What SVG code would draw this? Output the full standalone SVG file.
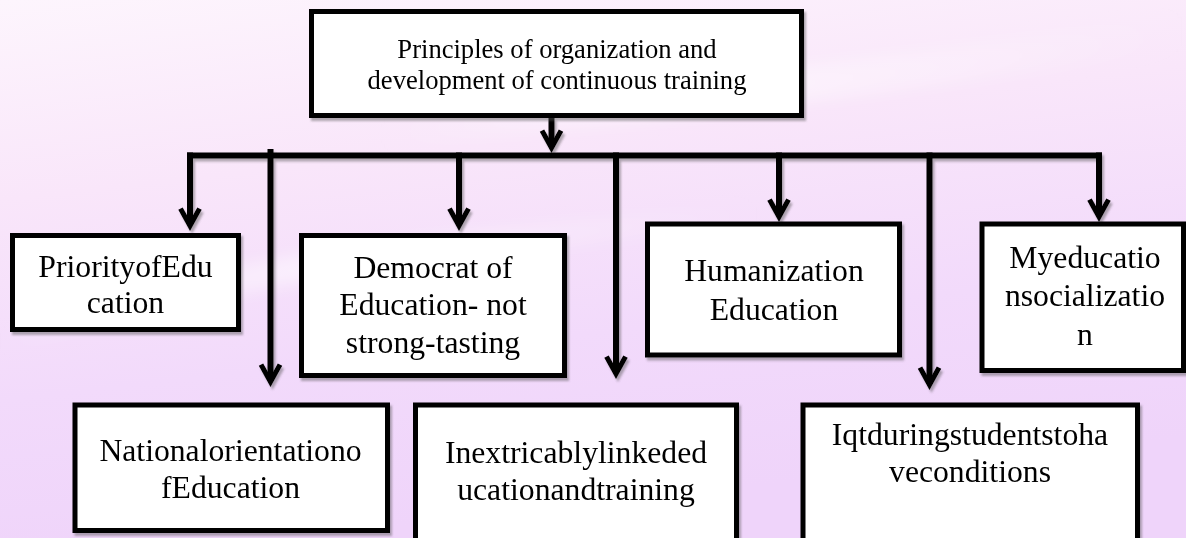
<svg xmlns="http://www.w3.org/2000/svg" width="1186" height="538" viewBox="0 0 1186 538">
<defs>
<linearGradient id="bg" x1="0" y1="0" x2="0.25" y2="1">
<stop offset="0" stop-color="#fdf5fd"/>
<stop offset="0.35" stop-color="#f9e6fa"/>
<stop offset="0.7" stop-color="#f2dafb"/>
<stop offset="1" stop-color="#efd4fa"/>
</linearGradient>
<linearGradient id="sw" x1="0" y1="0" x2="1" y2="0">
<stop offset="0" stop-color="#ffffff" stop-opacity="0"/>
<stop offset="0.4" stop-color="#ffffff" stop-opacity="0.55"/>
<stop offset="1" stop-color="#ffffff" stop-opacity="0"/>
</linearGradient>
<filter id="blur" x="-10%" y="-50%" width="120%" height="200%"><feGaussianBlur stdDeviation="8"/></filter>
<filter id="sh" filterUnits="userSpaceOnUse" x="0" y="0" width="1186" height="538">
<feDropShadow dx="2" dy="3" stdDeviation="1" flood-color="#555" flood-opacity="0.45"/>
</filter>
<marker id="chev" markerUnits="userSpaceOnUse" orient="auto" overflow="visible" markerWidth="30" markerHeight="30" refX="0" refY="0">
<path d="M-16.4,-9.5 L0.8,0 L-16.4,9.5" fill="none" stroke="#000" stroke-width="5" stroke-linejoin="miter" stroke-miterlimit="10"/>
</marker>
<style>
.box{fill:#fff;stroke:#000;stroke-width:5}
.t{font-family:"Liberation Serif","Times New Roman",serif;font-size:31.7px;fill:#000;text-anchor:middle}
.tt{font-family:"Liberation Serif","Times New Roman",serif;font-size:26.6px;fill:#000;text-anchor:middle}
.ln{fill:none;stroke:#000;stroke-width:6;stroke-linecap:butt}
</style>
</defs>
<rect width="1186" height="538" fill="url(#bg)"/>
<g opacity="0.9">
<path d="M0,330 C200,250 500,230 760,200 L760,225 C500,255 200,280 0,360 Z" fill="url(#sw)" filter="url(#blur)"/>
<path d="M380,120 C650,80 900,60 1186,10 L1186,50 C900,95 650,120 380,150 Z" fill="url(#sw)" filter="url(#blur)"/>
</g>
<g id="connectors" filter="url(#sh)">
<path class="ln" d="M551.5,118 V147" marker-end="url(#chev)"/>
<path class="ln" d="M187,155.5 H1102"/>
<path class="ln" d="M190,152.5 V225" marker-end="url(#chev)"/>
<path class="ln" d="M270.5,149 V381" marker-end="url(#chev)"/>
<path class="ln" d="M459,152.5 V225" marker-end="url(#chev)"/>
<path class="ln" d="M616,152.5 V373" marker-end="url(#chev)"/>
<path class="ln" d="M779,152.5 V216" marker-end="url(#chev)"/>
<path class="ln" d="M929.5,152.5 V384" marker-end="url(#chev)"/>
<path class="ln" d="M1099,152.5 V216" marker-end="url(#chev)"/>
</g>
<g id="n-top" filter="url(#sh)">
<rect class="box" x="311.5" y="11.5" width="490" height="104"/>
<text class="tt" x="557" y="58">Principles of organization and</text>
<text class="tt" x="557" y="89">development of continuous training</text>
</g>
<g id="n-priority" filter="url(#sh)">
<rect class="box" x="12.5" y="235.5" width="226" height="94"/>
<text class="t" x="125.5" y="277">PriorityofEdu</text>
<text class="t" x="125.5" y="313">cation</text>
</g>
<g id="n-democrat" filter="url(#sh)">
<rect class="box" x="301.5" y="235.5" width="263" height="140"/>
<text class="t" x="433" y="277.5">Democrat of</text>
<text class="t" x="433" y="315">Education- not</text>
<text class="t" x="433" y="352.5">strong-tasting</text>
</g>
<g id="n-humanization" filter="url(#sh)">
<rect class="box" x="647.5" y="224" width="252" height="131"/>
<text class="t" x="774" y="281">Humanization</text>
<text class="t" x="774" y="320">Education</text>
</g>
<g id="n-myeducation" filter="url(#sh)">
<rect class="box" x="982" y="224" width="201.5" height="146.5"/>
<text class="t" x="1085" y="268">Myeducatio</text>
<text class="t" x="1085" y="306">nsocializatio</text>
<text class="t" x="1085" y="344.5">n</text>
</g>
<g id="n-national" filter="url(#sh)">
<rect class="box" x="75" y="405" width="312.5" height="125.5"/>
<text class="t" x="230.5" y="461">Nationalorientationo</text>
<text class="t" x="230.5" y="498">fEducation</text>
</g>
<g id="n-inextricably" filter="url(#sh)">
<rect class="box" x="415.5" y="405" width="321" height="150"/>
<text class="t" x="576" y="463">Inextricablylinkeded</text>
<text class="t" x="576" y="500">ucationandtraining</text>
</g>
<g id="n-iqt" filter="url(#sh)">
<rect class="box" x="803" y="405" width="334.5" height="150"/>
<text class="t" x="970" y="445">Iqtduringstudentstoha</text>
<text class="t" x="970" y="482">veconditions</text>
</g>
</svg>
